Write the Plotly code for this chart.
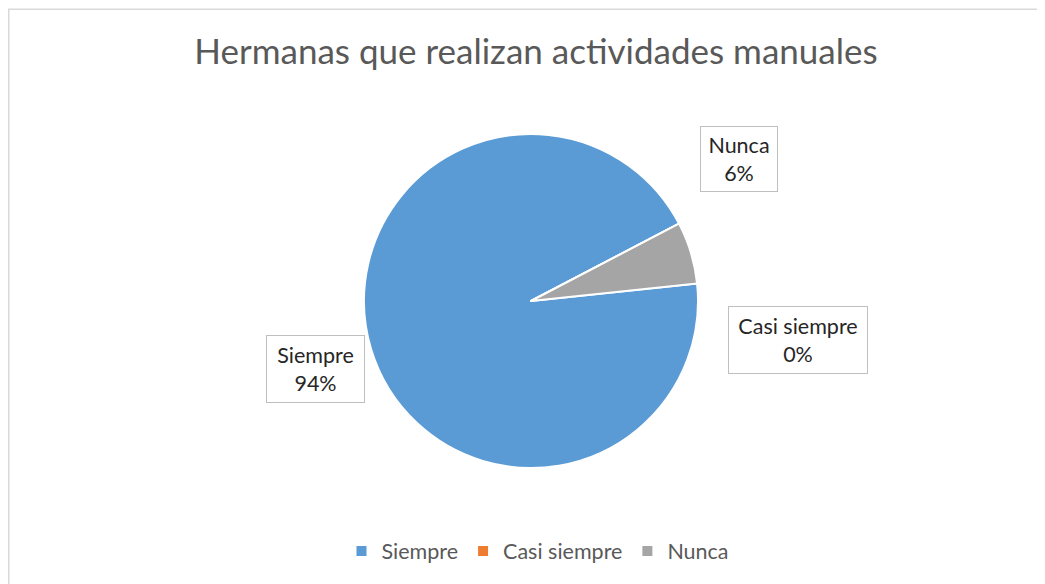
import plotly.graph_objects as go

categories = ["Siempre", "Casi siempre", "Nunca"]
values = [94, 0, 6]
colors = ["#5B9BD5", "#ED7D31", "#A5A5A5"]
title_text = "Hermanas que realizan actividades manuales"

W, H = 1045, 584
OFF = 8  # page body margin offset in the browser
cx, cy, R = 531 - OFF, 301 - OFF, 167
rotation = 84  # degrees clockwise from 12 o'clock where first slice starts

fig = go.Figure()
fig.add_trace(go.Pie(
    labels=categories,
    values=values,
    sort=False,
    direction="clockwise",
    rotation=rotation,
    marker=dict(colors=colors, line=dict(color="white", width=2)),
    textinfo="none",
    hoverinfo="label+percent",
    domain=dict(x=[(cx - R) / W, (cx + R) / W], y=[1 - (cy + R) / H, 1 - (cy - R) / H]),
    showlegend=True,
))

# data labels (boxes), text built from data
total = sum(values)
label_pos = {"Siempre": (315, 369, 99, 68), "Casi siempre": (798, 340, 140, 68), "Nunca": (739, 159, 78, 66)}
for cat, v in zip(categories, values):
    pct = round(100 * v / total)
    x, y, bw, bh = label_pos[cat]
    fig.add_annotation(
        x=(x - OFF) / W, y=1 - (y - OFF) / H, xref="paper", yref="paper",
        xanchor="center", yanchor="middle",
        text=f"{cat}<br>{pct}%", showarrow=False,
        font=dict(family="Lato", size=21.5, color="#262626"),
        bordercolor="#BFBFBF", borderwidth=1, borderpad=0,
        bgcolor="white", width=bw - 2, height=bh - 2, align="center",
    )

# chart area border
fig.add_shape(type="rect", xref="paper", yref="paper",
              x0=0.75 / W, x1=1.02, y0=-0.02, y1=1 - 1.25 / H,
              line=dict(color="#D9D9D9", width=1.5), fillcolor="rgba(0,0,0,0)", layer="below")

fig.update_layout(
    width=W, height=H,
    margin=dict(l=0, r=0, t=0, b=0),
    paper_bgcolor="white", plot_bgcolor="white",
    title=dict(text=title_text, x=(536 - OFF) / W, xanchor="center", y=1 - (52 - OFF) / H, yanchor="middle",
               font=dict(family="Lato", size=35, color="#595959")),
    legend=dict(orientation="h", x=(538 - OFF) / W, xanchor="center", y=1 - (551 - OFF) / H, yanchor="middle",
                font=dict(family="Lato", size=21.5, color="#595959"), traceorder="normal",
                itemwidth=30),
)

fig.write_html("out.html")
